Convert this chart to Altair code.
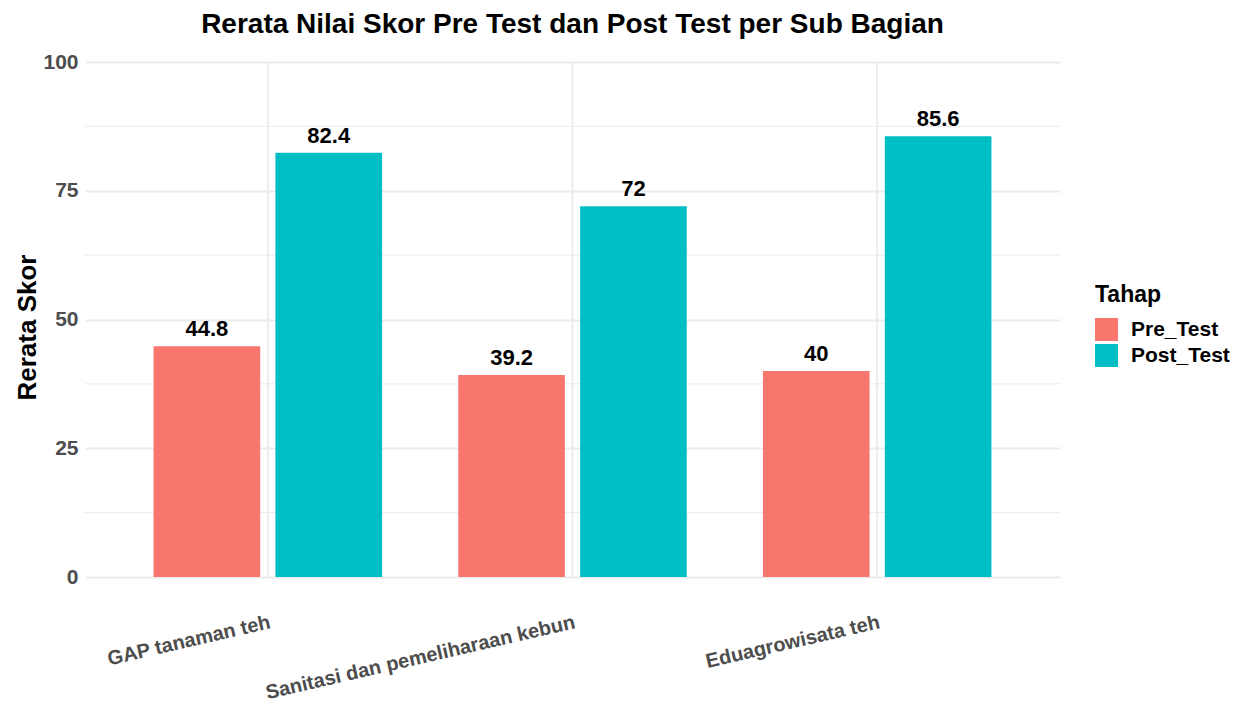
import altair as alt
import pandas as pd

categories = ["GAP tanaman teh", "Sanitasi dan pemeliharaan kebun", "Eduagrowisata teh"]
pre_test = [44.8, 39.2, 40]
post_test = [82.4, 72, 85.6]
stages = ["Pre_Test", "Post_Test"]
colors = ["#F8766D", "#00BFC4"]
y_ticks = [0, 25, 50, 75, 100]
y_minor = [12.5, 37.5, 62.5, 87.5]

FONT = "Liberation Sans"
GRID = "#EBEBEB"

rows = []
for c, a, b in zip(categories, pre_test, post_test):
    rows.append({"Sub": c, "Tahap": stages[0], "Skor": a, "Label": f"{a:g}"})
    rows.append({"Sub": c, "Tahap": stages[1], "Skor": b, "Label": f"{b:g}"})
df = pd.DataFrame(rows)

x_scale = alt.Scale(domain=categories, paddingInner=0, paddingOuter=0.1)
y_scale = alt.Scale(domain=[0, 100], nice=False, zero=True)
off_scale = alt.Scale(domain=stages, paddingInner=0.125, paddingOuter=0.3125)

x_axis = alt.Axis(
    labelAngle=347, labelAlign="right", labelBaseline="top", labelPadding=35,
    labelFontSize=20, labelFontWeight="bold", labelColor="#4D4D4D", labelFont=FONT,
    labelLimit=1000, domain=False, ticks=False, grid=False, title=None,
)
y_axis = alt.Axis(
    values=y_ticks, domain=False, ticks=False, labelPadding=7,
    labelFontSize=21, labelFontWeight="bold", labelColor="#4D4D4D", labelFont=FONT,
    title="Rerata Skor", titleFontSize=26, titleFontWeight="bold", titleColor="black",
    titleFont=FONT, titlePadding=2, titleY=265, gridColor=GRID, gridWidth=1.8,
)

minor = alt.Chart(pd.DataFrame({"Skor": y_minor})).mark_rule(color=GRID, strokeWidth=1).encode(
    y=alt.Y("Skor:Q", scale=y_scale, axis=y_axis)
)
vgrid = alt.Chart(pd.DataFrame({"Sub": categories})).mark_rule(color=GRID, strokeWidth=1.8).encode(
    x=alt.X("Sub:N", sort=categories, scale=x_scale, axis=x_axis)
)

base = alt.Chart(df).encode(
    x=alt.X("Sub:N", sort=categories, scale=x_scale, axis=x_axis),
    xOffset=alt.XOffset("Tahap:N", sort=stages, scale=off_scale),
    y=alt.Y("Skor:Q", scale=y_scale, axis=y_axis),
)

bars = base.mark_bar().encode(
    color=alt.Color(
        "Tahap:N", sort=stages, scale=alt.Scale(domain=stages, range=colors),
        legend=alt.Legend(
            title="Tahap", orient="none", legendX=1010, legendY=222,
            titleFontSize=23, titleFontWeight="bold", titleColor="black", titleFont=FONT,
            titlePadding=11, labelFontSize=21, labelFontWeight="bold", labelColor="black",
            labelFont=FONT, symbolType="square", symbolSize=529, symbolStrokeWidth=0,
            symbolOpacity=1, labelOffset=13, rowPadding=3,
        ),
    )
)

labels = base.mark_text(
    dy=-10, baseline="alphabetic", fontSize=22, fontWeight="bold", font=FONT, color="black"
).encode(text="Label:N")

chart = alt.layer(minor, vgrid, bars, labels).properties(
    width=975,
    height=515,
    autosize=alt.AutoSizeParams(type="none"),
    padding={"left": 77, "top": 54, "right": 172, "bottom": 128},
    background="white",
    title=alt.TitleParams(
        text="Rerata Nilai Skor Pre Test dan Post Test per Sub Bagian",
        fontSize=28, fontWeight="bold", font=FONT, color="black",
        anchor="middle", offset=12,
    ),
).configure_view(stroke=None)

chart.save("out.html", embed_options={"renderer": "svg", "actions": False})
